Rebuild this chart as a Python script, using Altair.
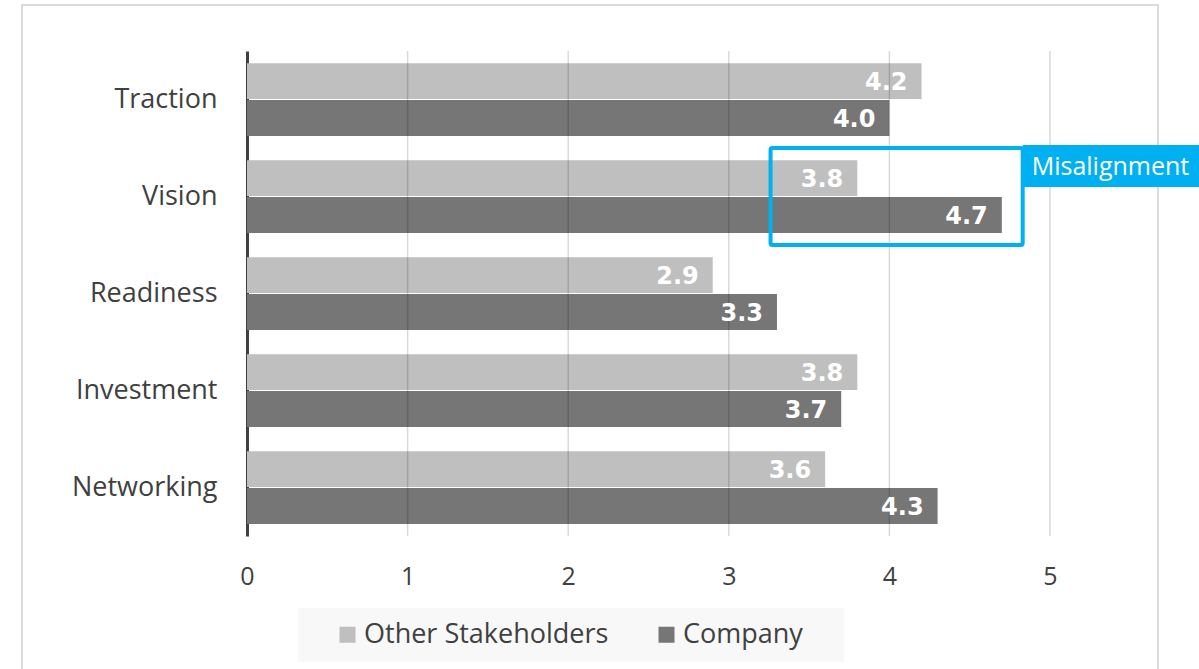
import altair as alt
import pandas as pd

categories = ["Traction", "Vision", "Readiness", "Investment", "Networking"]
other_vals = [4.2, 3.8, 2.9, 3.8, 3.6]
company_vals = [4.0, 4.7, 3.3, 3.7, 4.3]
series = ["Other Stakeholders", "Company"]
colors = ["#bfbfbf", "#767676"]
x_ticks = [0, 1, 2, 3, 4, 5]
grid_ticks = [1, 2, 3, 4, 5]
annot_box = [3.26, 4.83]
annot_tag = [4.83, 5.93]
annot_text = "Misalignment"
cyan = "#00b0f0"
FONT = "Open Sans"
LABEL_FONT = "DejaVu Sans"
TXT = "#404040"

rows = []
for c, o, k in zip(categories, other_vals, company_vals):
    rows.append({"category": c, "series": series[0], "value": o, "label": f"{o:.1f}"})
    rows.append({"category": c, "series": series[1], "value": k, "label": f"{k:.1f}"})
df = pd.DataFrame(rows)

W, H = 803, 485
xscale = alt.Scale(domain=[0, 5], nice=False, zero=True)
yscale = alt.Scale(domain=categories, paddingInner=0.25, paddingOuter=0.125)
yoff_scale = alt.Scale(domain=series, paddingInner=0.03)

one = pd.DataFrame({"k": [0]})

border = alt.Chart(one).mark_rect(filled=False, stroke="#d0d0d0", strokeWidth=1.5).encode(
    x=alt.value(-225), x2=alt.value(911), y=alt.value(-46), y2=alt.value(700)
)

legend_bg = alt.Chart(one).mark_rect(fill="#f8f8f8").encode(
    x=alt.value(51), x2=alt.value(597), y=alt.value(557), y2=alt.value(611)
)

bars = alt.Chart(df).mark_bar().encode(
    x=alt.X("value:Q", scale=xscale,
            axis=alt.Axis(values=x_ticks, format="d", grid=False, domain=False, ticks=False,
                          labelFlush=False,
                          labelFontSize=25, labelPadding=28, labelColor=TXT,
                          labelFont=FONT, title=None)),
    y=alt.Y("category:N", scale=yscale, sort=categories,
            axis=alt.Axis(title=None, ticks=False, domainColor="#404040", domainWidth=3,
                          labelFontSize=27, labelPadding=30, labelFont=FONT,
                          labelColor=TXT, grid=False, labelLimit=0)),
    yOffset=alt.YOffset("series:N", sort=series, scale=yoff_scale),
    color=alt.Color("series:N", sort=series,
                    scale=alt.Scale(domain=series, range=colors),
                    legend=alt.Legend(title=None, orient="none", direction="horizontal",
                                      legendX=87, legendY=570,
                                      symbolType="square", symbolSize=256,
                                      symbolStrokeWidth=0, labelFontSize=27,
                                      labelFont=FONT, labelColor=TXT, labelLimit=0,
                                      labelOffset=3, columnPadding=44, padding=0)),
)

rules = alt.Chart(pd.DataFrame({"t": grid_ticks})).mark_rule(
    color="#000000", opacity=0.15, strokeWidth=1.5
).encode(
    x=alt.X("t:Q", scale=xscale), y=alt.value(0), y2=alt.value(H)
)

labels = alt.Chart(df).mark_text(
    align="right", baseline="middle", dx=-14, dy=2, color="white",
    font=LABEL_FONT, fontWeight="bold", fontSize=24
).encode(
    x=alt.X("value:Q", scale=xscale),
    y=alt.Y("category:N", scale=yscale, sort=categories),
    yOffset=alt.YOffset("series:N", sort=series, scale=yoff_scale),
    text="label:N",
)

ann = pd.DataFrame({"x": [annot_box[0]], "x2": [annot_box[1]],
                    "tx": [annot_tag[0]], "tx2": [annot_tag[1]], "text": [annot_text]})

box = alt.Chart(ann).mark_rect(filled=False, stroke=cyan, strokeWidth=4, cornerRadius=2).encode(
    x=alt.X("x:Q", scale=xscale), x2="x2:Q", y=alt.value(97), y2=alt.value(194)
)
tag = alt.Chart(ann).mark_rect(fill=cyan).encode(
    x=alt.X("tx:Q", scale=xscale), x2="tx2:Q", y=alt.value(94), y2=alt.value(136)
)
tag_text = alt.Chart(ann).mark_text(
    align="left", baseline="middle", dx=9, color="white", font=FONT, fontSize=25
).encode(
    x=alt.X("tx:Q", scale=xscale), y=alt.value(116), text="text:N"
)

chart = alt.layer(border, legend_bg, bars, rules, labels, box, tag, tag_text).properties(
    width=W, height=H,
    autosize=alt.AutoSizeParams(type="none"),
    padding={"left": 247, "top": 51, "right": 149, "bottom": 133},
    background="white",
).configure_view(stroke=None)

chart.save("out.html", embed_options={"renderer": "svg", "actions": False})
